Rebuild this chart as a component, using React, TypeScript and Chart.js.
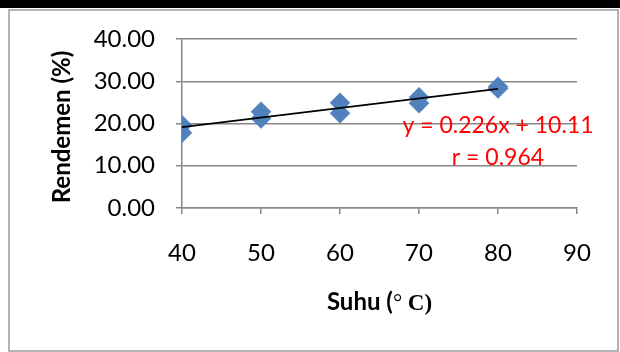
import React, { useEffect, useRef } from "react";
import { Chart, registerables } from "chart.js";

Chart.register(...registerables);

// ---- data ----
const suhu = [40, 40, 50, 50, 60, 60, 70, 70, 80, 80];
const rendemen = [19.6, 17.8, 22.8, 21.2, 24.9, 22.4, 26.2, 24.8, 28.7, 28.3];
const trendX = [40, 80];
const trendY = [19.15, 28.19];
const xTickValues = [40, 50, 60, 70, 80, 90];
const yTickValues = [0, 10, 20, 30, 40];
const yTitle = "Rendemen (%)";
const xTitleParts = ["Suhu (", "° ", "C)"];
const equationText = "y = 0.226x + 10.11";
const rText = "r = 0.964";
const equationPos = [80, 19.6];
const rPos = [80, 11.9];

const GRID = "#868686";
const SANS = "Lato, 'Open Sans', sans-serif";
const SERIF = "'Liberation Serif', 'DejaVu Serif', serif";

const framePlugin = {
  id: "frame",
  beforeDraw(chart: any) {
    const ctx = chart.ctx;
    ctx.save();
    ctx.fillStyle = "#ffffff";
    ctx.fillRect(0, 0, chart.width, chart.height);
    ctx.fillStyle = "#000000";
    ctx.fillRect(0, 0, chart.width, 8);
    ctx.strokeStyle = "#9a9a9a";
    ctx.lineWidth = 1.5;
    ctx.strokeRect(9, 10, chart.width - 11, chart.height - 11);
    ctx.restore();
  },
  afterDraw(chart: any) {
    const ctx = chart.ctx;
    const area = chart.chartArea;
    const xs = chart.scales.x;
    const ys = chart.scales.y;
    ctx.save();
    // y title
    ctx.fillStyle = "#000";
    ctx.font = `bold 24px ${SANS}`;
    ctx.textAlign = "center";
    ctx.textBaseline = "middle";
    ctx.translate(62, 127);
    ctx.rotate(-Math.PI / 2);
    ctx.fillText(yTitle, 0, 0);
    ctx.setTransform(1, 0, 0, 1, 0, 0);
    // x title (mixed fonts)
    const fonts = [`bold 24px ${SANS}`, `23px ${SERIF}`, `bold 23px ${SERIF}`];
    let total = 0;
    const widths = xTitleParts.map((p, i) => {
      ctx.font = fonts[i];
      const w = ctx.measureText(p).width;
      total += w;
      return w;
    });
    let x = (area.left + area.right) / 2 - total / 2;
    ctx.textAlign = "left";
    ctx.textBaseline = "alphabetic";
    xTitleParts.forEach((p, i) => {
      ctx.font = fonts[i];
      ctx.fillText(p, x, 310);
      x += widths[i];
    });
    // equation annotation
    ctx.fillStyle = "#ff0000";
    ctx.font = `23px ${SANS}`;
    ctx.textAlign = "center";
    ctx.textBaseline = "middle";
    ctx.fillText(equationText, xs.getPixelForValue(equationPos[0]), ys.getPixelForValue(equationPos[1]));
    ctx.fillText(rText, xs.getPixelForValue(rPos[0]), ys.getPixelForValue(rPos[1]));
    ctx.restore();
  },
};

export default function App() {
  const ref = useRef<HTMLCanvasElement>(null);
  useEffect(() => {
    if (!ref.current) return;
    const chart = new Chart(ref.current, {
      type: "scatter",
      data: {
        datasets: [
          {
            type: "line",
            data: trendX.map((v, i) => ({ x: v, y: trendY[i] })),
            borderColor: "#000000",
            borderWidth: 1.8,
            pointRadius: 0,
            fill: false,
            order: 0,
          } as any,
          {
            type: "scatter",
            data: suhu.map((v, i) => ({ x: v, y: rendemen[i] })),
            pointStyle: "rectRot",
            pointRadius: 10,
            backgroundColor: "#4f81bd",
            borderColor: "#4a7ab5",
            borderWidth: 0.5,
            order: 1,
          } as any,
        ],
      },
      options: {
        animation: false,
        responsive: false,
        events: [],
        layout: { padding: { left: 0, right: 43, top: 39, bottom: 0 } },
        plugins: { legend: { display: false }, tooltip: { enabled: false } },
        scales: {
          x: {
            type: "linear",
            min: 40,
            max: 90,
            afterBuildTicks: (s: any) => {
              s.ticks = xTickValues.map((v) => ({ value: v }));
            },
            afterFit: (s: any) => {
              s.height = 144;
            },
            ticks: {
              color: "#000",
              font: { family: SANS, size: 24 },
              padding: 25,
              maxRotation: 0,
            },
            grid: {
              drawOnChartArea: false,
              drawTicks: true,
              tickLength: 6,
              color: GRID,
              lineWidth: 1.5,
            },
            border: { display: true, color: GRID, width: 1.5 },
          },
          y: {
            type: "linear",
            min: 0,
            max: 40,
            afterBuildTicks: (s: any) => {
              s.ticks = yTickValues.map((v) => ({ value: v }));
            },
            afterFit: (s: any) => {
              s.width = 182;
            },
            ticks: {
              color: "#000",
              font: { family: SANS, size: 24 },
              padding: 21,
              callback: (v: any) => Number(v).toFixed(2),
            },
            grid: {
              drawTicks: true,
              tickLength: 6,
              color: GRID,
              lineWidth: 1.5,
            },
            border: { display: true, color: GRID, width: 1.5 },
          },
        },
      },
      plugins: [framePlugin],
    });
    return () => chart.destroy();
  }, []);
  return (
    <div style={{ position: "absolute", left: 0, top: 0, width: 620, height: 352 }}>
      <canvas ref={ref} width={620} height={352} style={{ display: "block" }} />
    </div>
  );
}
